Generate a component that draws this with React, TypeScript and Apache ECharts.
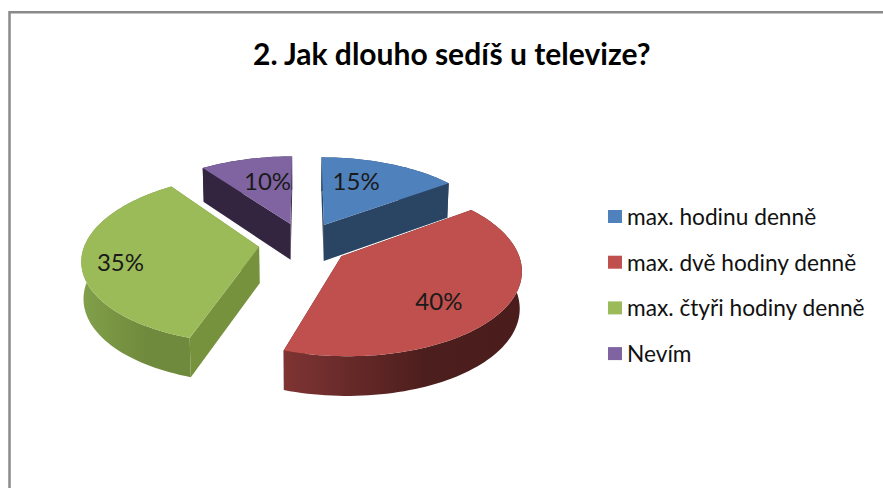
import React, { useEffect, useRef } from "react";
import * as echarts from "echarts";

const categories = ["max. hodinu denně", "max. dvě hodiny denně", "max. čtyři hodiny denně", "Nevím"];
const shares = [15, 40, 35, 10];
const percentLabels = ["15%", "40%", "35%", "10%"];
const titleText = "2. Jak dlouho sedíš u televize?";

const topColors = ["#4F81BD", "#C0504D", "#9BBB59", "#8064A2"];
const radialWallColors = ["#2A4564", "#4A1C1B", "#76923C", "#33253F"];
const rimWallStops = [
  ["#2A4564", "#2A4564", "#2A4564"],
  ["#7E3433", "#4C1E1D", "#4A1C1B"],
  ["#82A04A", "#6F8A3C", "#6F8A3C"],
  ["#33253F", "#33253F", "#33253F"],
];
const labelRadius = [0.67, 0.69, 0.786, 0.64];
const labelAngleShift = [-0.14, 0.14, -0.07, 0.07];

// Projection of the tilted pie onto the page
const view = { cx: 304, cy: 243.5, a: 174, b: 82, k: 0.14, depth: 36.5, k2: 0.07, explode: 0.26, squeeze: 0.99 };

const project = (X: number, Y: number, bottom: boolean): [number, number] => {
  const w = 1 + view.k * Y;
  const sx = (view.a * X) / w;
  const sy = (-view.b * Y) / w;
  if (!bottom) return [view.cx + sx, view.cy + sy];
  return [view.cx + sx * view.squeeze, view.cy + sy + view.depth / (1 + view.k2 * Y)];
};

const total = shares.reduce((s, v) => s + v, 0);
const startAngle = (i: number) => (shares.slice(0, i).reduce((s, v) => s + v, 0) / total) * 2 * Math.PI;
const endAngle = (i: number) => startAngle(i + 1);

const sliceGeometry = (i: number) => {
  const t0 = startAngle(i);
  const t1 = endAngle(i);
  const mid = (t0 + t1) / 2;
  const ox = view.explode * Math.sin(mid);
  const oy = view.explode * Math.cos(mid);
  const rim = (bottom: boolean) => {
    const pts: [number, number][] = [];
    const n = Math.max(2, Math.ceil((t1 - t0) / 0.03));
    for (let j = 0; j <= n; j++) {
      const t = t0 + ((t1 - t0) * j) / n;
      pts.push(project(ox + Math.sin(t), oy + Math.cos(t), bottom));
    }
    return pts;
  };
  return { t0, t1, mid, ox, oy, rimTop: rim(false), rimBottom: rim(true), apexTop: project(ox, oy, false), apexBottom: project(ox, oy, true) };
};

const renderSlice = (i: number) => () => {
  const g = sliceGeometry(i);
  const poly = (points: [number, number][], fill: any) => ({
    type: "polygon",
    shape: { points },
    style: { fill, stroke: "none" },
    silent: true,
  });
  const rimFill = new echarts.graphic.LinearGradient(0, 0, 1, 0, [
    { offset: 0, color: rimWallStops[i][0] },
    { offset: 0.6, color: rimWallStops[i][1] },
    { offset: 1, color: rimWallStops[i][2] },
  ]);
  const first = g.rimTop[0];
  const last = g.rimTop[g.rimTop.length - 1];
  const firstB = g.rimBottom[0];
  const lastB = g.rimBottom[g.rimBottom.length - 1];
  const lp = project(
    g.ox + labelRadius[i] * Math.sin(g.mid + labelAngleShift[i]),
    g.oy + labelRadius[i] * Math.cos(g.mid + labelAngleShift[i]),
    false
  );
  return {
    type: "group",
    children: [
      poly([g.apexTop, first, firstB, g.apexBottom], radialWallColors[i]),
      poly([g.apexTop, last, lastB, g.apexBottom], radialWallColors[i]),
      poly([...g.rimTop, ...g.rimBottom.slice().reverse()], rimFill),
      poly([g.apexTop, ...g.rimTop], topColors[i]),
      {
        type: "text",
        x: lp[0],
        y: lp[1],
        style: {
          text: percentLabels[i],
          fill: "#1a1a1a",
          font: "24px Lato",
          align: "center",
          verticalAlign: "middle",
        },
      },
    ],
  };
};

export default function App() {
  const ref = useRef<HTMLDivElement>(null);
  useEffect(() => {
    const chart = echarts.init(ref.current!, undefined, { renderer: "svg" });
    chart.setOption({
      animation: false,
      backgroundColor: "#fff",
      title: {
        text: titleText,
        left: 248,
        top: 33,
        textStyle: { fontFamily: "Lato", fontWeight: "bold", fontSize: 30, color: "#000" },
      },
      legend: {
        orient: "vertical",
        left: 603,
        top: 200,
        itemWidth: 14,
        itemHeight: 13,
        itemGap: 22.7,
        icon: "rect",
        data: categories,
        textStyle: { fontFamily: "Lato", fontSize: 22.7, color: "#111", height: 23, lineHeight: 23 },
        selectedMode: false,
      },
      graphic: [
        {
          type: "polyline",
          shape: { points: [[9.5, 488], [9.5, 12.3], [883, 12.3]] },
          style: { stroke: "#8A8A8A", lineWidth: 2.5, fill: "none" },
          silent: true,
        },
      ],
      series: categories.map((name, i) => ({
        type: "custom",
        name,
        coordinateSystem: "none",
        itemStyle: { color: topColors[i] },
        data: [shares[i]],
        renderItem: renderSlice(i),
        silent: true,
      })),
    });
    return () => chart.dispose();
  }, []);
  return <div ref={ref} style={{ position: "fixed", left: 0, top: 0, width: 883, height: 488 }} />;
}
